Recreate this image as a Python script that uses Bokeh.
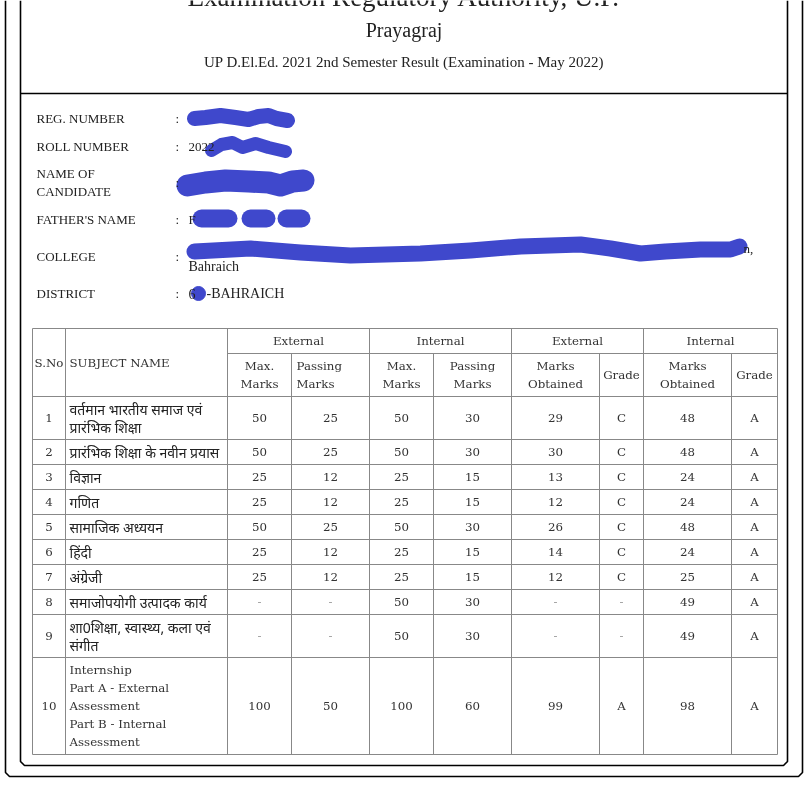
from bokeh.plotting import figure
from bokeh.models import Range1d
from bokeh.core.properties import value
from bokeh.embed import file_html
from bokeh.resources import INLINE

# ---------------- data ----------------
title_lines = ["Examination Regulatory Authority, U.P.", "Prayagraj",
               "UP D.El.Ed. 2021 2nd Semester Result (Examination - May 2022)"]
info_labels = ["REG. NUMBER", "ROLL NUMBER", "NAME OF\nCANDIDATE", "FATHER'S NAME", "COLLEGE", "DISTRICT"]
info_values = ["", "2022", "", "F", "n,", "-BAHRAICH"]
district_code = "6"
college_line2 = "Bahraich"
group_headers = ["External", "Internal", "External", "Internal"]
sub_headers = ["Max.\nMarks", "Passing\nMarks", "Max.\nMarks", "Passing\nMarks",
               "Marks\nObtained", "Grade", "Marks\nObtained", "Grade"]
sno = ["1", "2", "3", "4", "5", "6", "7", "8", "9", "10"]
subjects = [
    "वर्तमान भारतीय समाज एवं\nप्रारंभिक शिक्षा",
    "प्रारंभिक शिक्षा के नवीन प्रयास",
    "विज्ञान",
    "गणित",
    "सामाजिक अध्ययन",
    "हिंदी",
    "अंग्रेजी",
    "समाजोपयोगी उत्पादक कार्य",
    "शा0शिक्षा, स्वास्थ्य, कला एवं\nसंगीत",
    "Internship\nPart A - External\nAssessment\nPart B - Internal\nAssessment",
]
ext_max = ["50", "50", "25", "25", "50", "25", "25", "-", "-", "100"]
ext_pass = ["25", "25", "12", "12", "25", "12", "12", "-", "-", "50"]
int_max = ["50", "50", "25", "25", "50", "25", "25", "50", "50", "100"]
int_pass = ["30", "30", "15", "15", "30", "15", "15", "30", "30", "60"]
ext_obt = ["29", "30", "13", "12", "26", "14", "12", "-", "-", "99"]
ext_grade = ["C", "C", "C", "C", "C", "C", "C", "-", "-", "A"]
int_obt = ["48", "48", "24", "24", "48", "24", "25", "49", "49", "98"]
int_grade = ["A", "A", "A", "A", "A", "A", "A", "A", "A", "A"]

# ---------------- layout ----------------
W, H = 804, 800
p = figure(width=W, height=H, x_range=Range1d(0, W), y_range=Range1d(H, 0),
           output_backend="svg", toolbar_location=None, min_border=0)
p.axis.visible = False
p.grid.visible = False
p.outline_line_color = None
p.background_fill_color = "white"
p.border_fill_color = "white"
p.styles = {"position": "fixed", "left": "0px", "top": "0px"}

SERIF = "Liberation Serif"
TSERIF = "DejaVu Serif"
HINDI = "Noto Sans"
TXT = "#333333"

texts = {}


def add_text(x, y, t, font=TSERIF, size=11.8, color=TXT, align="center", baseline="middle"):
    key = (font, size, color, align, baseline)
    d = texts.setdefault(key, {"x": [], "y": [], "t": []})
    d["x"].append(x)
    d["y"].append(y)
    d["t"].append(t)


def is_hindi(s):
    return any("\u0900" <= ch <= "\u097f" for ch in s)


# outer frames
p.multi_line(xs=[[5, 5, 9, 798, 802, 802], [20, 20, 24, 783, 787, 787]],
             ys=[[0, 772, 776, 776, 772, 0], [0, 761, 765, 765, 761, 0]],
             line_color="black", line_width=1.6)
p.line([20, 787], [93, 93], line_color="black", line_width=1.4)

# titles
cx = (20 + 787) / 2
add_text(cx, -4, title_lines[0], SERIF, 27, "#222222", "center", "middle")
add_text(cx, 29, title_lines[1], SERIF, 20, "#222222", "center", "middle")
add_text(cx, 61, title_lines[2], SERIF, 15, "#222222", "center", "middle")

# info block
info_y = [118, 146, 182, 219, 256, 293]
for lab, val, y in zip(info_labels, info_values, info_y):
    lines = lab.split("\n")
    for i, ln in enumerate(lines):
        add_text(36, y + (i - (len(lines) - 1) / 2) * 18, ln, SERIF, 13, "#222222", "left")
    add_text(175, y, ":", SERIF, 13, "#222222", "left")
add_text(188, 146, info_values[1], SERIF, 13, "#222222", "left")
add_text(188, 219, info_values[3], SERIF, 13, "#222222", "left")
add_text(743, 248, info_values[4], SERIF, 13, "#222222", "left")
add_text(188, 266, college_line2, SERIF, 14, "#222222", "left")
add_text(188, 293, district_code, SERIF, 14, "#222222", "left")
add_text(206, 293, info_values[5], SERIF, 14, "#222222", "left")

# redaction scribbles (decoration)
blue = "#3f48cc"
scrib_x = [[194, 205, 220, 235, 248, 258, 268, 276, 287],
           [211, 221, 232, 242, 255, 268, 285],
           [187, 205, 225, 248, 268, 280, 292, 303],
           [201, 228], [250, 266], [286, 301],
           [194, 250, 300, 350, 420, 470, 520, 580, 610, 640, 665, 700, 730, 739]]
scrib_y = [[118, 117, 115, 117, 119, 116, 115, 118, 120],
           [150, 144, 142, 147, 143, 147, 151],
           [185, 182, 180, 181, 182, 185, 181, 180],
           [218, 218], [218, 218], [218, 218],
           [251, 248, 252, 255, 253, 250, 246, 244, 248, 253, 251, 249, 249, 246]]
scrib_w = [15, 13, 22, 18, 18, 18, 16]
for xs_, ys_, w_ in zip(scrib_x, scrib_y, scrib_w):
    p.line(xs_, ys_, line_color=blue, line_width=w_, line_cap="round", line_join="round")
p.scatter([198], [293], size=14, color=blue)

# ---------------- table ----------------
cols = [32, 65, 227, 291, 369, 433, 511, 599, 643, 731, 777]
t_top = 328
h1 = t_top + 25
h2 = h1 + 43
LH = 18
row_h = [7 + LH * len(s.split("\n")) for s in subjects]
row_edges = [h2]
for h in row_h:
    row_edges.append(row_edges[-1] + h)
t_bot = row_edges[-1]

hx, hy = [], []
hx.append([cols[0], cols[-1]]); hy.append([t_top, t_top])
hx.append([cols[2], cols[-1]]); hy.append([h1, h1])
for e in row_edges:
    hx.append([cols[0], cols[-1]]); hy.append([e, e])
full_cols = {0, 1, 2, 4, 6, 8, 10}
for i, c in enumerate(cols):
    top = t_top if i in full_cols else h1
    hx.append([c, c]); hy.append([top, t_bot])
p.multi_line(xs=hx, ys=hy, line_color="#888888", line_width=1)

# header
hy_mid = (t_top + h2) / 2
add_text((cols[0] + cols[1]) / 2, hy_mid, "S.No")
add_text(cols[1] + 4, hy_mid, "SUBJECT NAME", align="left")
for g, txt in enumerate(group_headers):
    a, b = cols[2 + 2 * g], cols[4 + 2 * g]
    add_text((a + b) / 2, (t_top + h1) / 2, txt)
sub_mid = (h1 + h2) / 2
for k, txt in enumerate(sub_headers):
    a, b = cols[2 + k], cols[3 + k]
    lines = txt.split("\n")
    for i, ln in enumerate(lines):
        yy = sub_mid + (i - (len(lines) - 1) / 2) * LH
        if k == 1:
            add_text(a + 5, yy, ln, align="left")
        else:
            add_text((a + b) / 2, yy, ln)

# body
columns_vals = [ext_max, ext_pass, int_max, int_pass, ext_obt, ext_grade, int_obt, int_grade]
for r in range(len(sno)):
    y0, y1 = row_edges[r], row_edges[r + 1]
    ym = (y0 + y1) / 2
    add_text((cols[0] + cols[1]) / 2, ym, sno[r])
    lines = subjects[r].split("\n")
    for i, ln in enumerate(lines):
        yy = ym + (i - (len(lines) - 1) / 2) * LH
        if is_hindi(ln):
            add_text(cols[1] + 4, yy, ln, HINDI, 14, "#222222", "left")
        else:
            add_text(cols[1] + 4, yy, ln, align="left")
    for k, vals in enumerate(columns_vals):
        a, b = cols[2 + k], cols[3 + k]
        v = vals[r]
        add_text((a + b) / 2, ym, v, color="#999999" if v == "-" else TXT)

for (font, size, color, align, baseline), d in texts.items():
    p.text(x=d["x"], y=d["y"], text=d["t"], text_font=value(font),
           text_font_size=f"{size}px", text_color=color, text_align=align,
           text_baseline=baseline)

open("out.html", "w").write(file_html(p, INLINE))
